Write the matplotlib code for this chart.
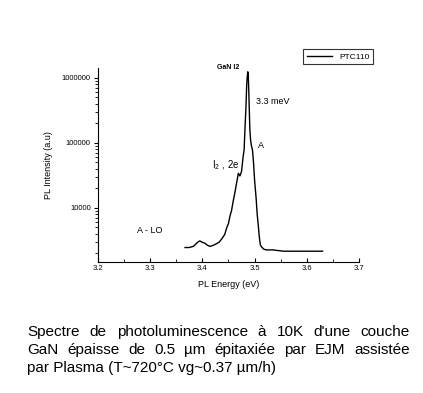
import numpy as np
import matplotlib.pyplot as plt
from matplotlib.ticker import FixedLocator, LogLocator, NullFormatter, MultipleLocator

# PL spectrum (energy in eV, intensity in a.u.)
energy = [3.367, 3.375, 3.383, 3.390, 3.395, 3.400, 3.405, 3.410, 3.415, 3.421,
          3.427, 3.432, 3.437, 3.443, 3.447, 3.450, 3.453, 3.456, 3.459, 3.462,
          3.466, 3.469, 3.472, 3.475, 3.478, 3.480, 3.482, 3.4835, 3.485, 3.486,
          3.487, 3.488, 3.489, 3.4898, 3.491, 3.4924, 3.494, 3.496, 3.498, 3.500,
          3.503, 3.505, 3.507, 3.509, 3.511, 3.5134, 3.518, 3.523, 3.535, 3.555,
          3.575, 3.600, 3.630]
intensity = [2450, 2450, 2550, 2900, 3100, 2950, 2850, 2650, 2550, 2650,
             2800, 2950, 3300, 3900, 5000, 5700, 7500, 9100, 12500, 16500,
             25000, 34000, 31000, 36000, 60000, 78000, 190000, 350000, 800000, 1030000,
             1240000, 1100000, 600000, 350000, 160000, 110000, 90000, 78000, 50000, 27000,
             14000, 8000, 5500, 3600, 2700, 2500, 2300, 2250, 2250, 2150,
             2150, 2150, 2150]

xticks = [3.2, 3.3, 3.4, 3.5, 3.6, 3.7]
yticks = [10000, 100000, 1000000]
ytick_labels = ['10000', '100000', '1000000']

caption = ["Spectre de photoluminescence à 10K d'une couche",
           "GaN épaisse de 0.5 µm épitaxiée par EJM assistée",
           "par Plasma (T~720°C vg~0.37 µm/h)"]

plt.rcParams['font.family'] = ['Liberation Sans', 'DejaVu Sans']
plt.rcParams['mathtext.default'] = 'regular'

W, H = 423, 393
fig = plt.figure(figsize=(W / 100, H / 100), dpi=100)
ax = fig.add_axes([0.231, 0.334, 0.618, 0.492])

ax.plot(energy, intensity, color='black', lw=1.0, label='PTC110')
ax.set_yscale('log')
ax.set_xlim(3.2, 3.7)
ax.set_ylim(1480, 1.4e6)

ax.spines['top'].set_visible(False)
ax.spines['right'].set_visible(False)

ax.xaxis.set_major_locator(FixedLocator(xticks))
ax.xaxis.set_minor_locator(MultipleLocator(0.05))
ax.set_xticklabels([f'{t:.1f}' for t in xticks])
ax.yaxis.set_major_locator(FixedLocator(yticks))
ax.set_yticklabels(ytick_labels)
ax.yaxis.set_minor_locator(LogLocator(base=10, subs=np.arange(2, 10)))
ax.yaxis.set_minor_formatter(NullFormatter())

ax.tick_params(axis='both', which='major', labelsize=5.5, length=3, width=0.8, pad=2)
ax.tick_params(axis='both', which='minor', length=2, width=0.6)
ax.tick_params(axis='x', which='both', direction='in')
ax.tick_params(axis='y', which='both', direction='out')

ax.set_xlabel('PL Energy (eV)', fontsize=6.5, labelpad=6)
ax.set_ylabel('PL Intensity (a.u)', fontsize=6.5, labelpad=6)

ax.text(3.449, 1.46e6, 'GaN I2', fontsize=5, fontweight='bold', ha='center', va='center',
        clip_on=False)
ax.text(3.503, 4.4e5, '3.3 meV', fontsize=6.5, ha='left', va='center')
ax.text(3.507, 9.0e4, 'A', fontsize=6.5, ha='left', va='center')
ax.text(3.4185, 4.5e4, '$I_2$ , 2e', fontsize=7, ha='left', va='center')
ax.text(3.275, 4400, 'A - LO', fontsize=6.5, ha='left', va='center')

leg = ax.legend(loc='upper right', bbox_to_anchor=(373 / W, 1 - 49 / H),
                bbox_transform=fig.transFigure,
                fontsize=6, frameon=True, fancybox=False, handlelength=3.0,
                borderpad=0.45, borderaxespad=0)
leg.get_frame().set_edgecolor('black')
leg.get_frame().set_linewidth(0.8)

# caption, justified between x=27 and x=410 px for the first two lines
fig.canvas.draw()
renderer = fig.canvas.get_renderer()
x0, x1 = 27, 410
for i, line in enumerate(caption):
    y = 1 - (332 + 18 * i) / H
    words = line.split(' ')
    if i == len(caption) - 1:
        fig.text(x0 / W, y, line, fontsize=11, ha='left', va='center')
        continue
    arts = [fig.text(0, y, w, fontsize=11, ha='left', va='center') for w in words]
    widths = [a.get_window_extent(renderer).width for a in arts]
    gap = (x1 - x0 - sum(widths)) / (len(words) - 1)
    x = x0
    for a, w in zip(arts, widths):
        a.set_x(x / W)
        x += w + gap

fig.savefig('out.png', dpi=100)
